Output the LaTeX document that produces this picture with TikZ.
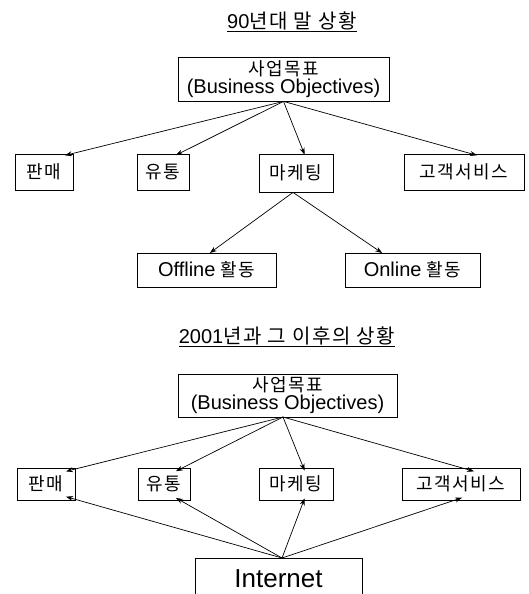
\documentclass[tikz,border=0pt]{standalone}
\usepackage{fontspec}
\setmainfont{Liberation Sans}
\newfontfamily\kr[LetterSpace=8]{Noto Sans CJK KR}
\usetikzlibrary{arrows.meta}
\begin{document}
\begin{tikzpicture}[x=1pt,y=-1pt,
  box/.style={draw,line width=0.8pt,inner sep=0pt,align=center,font=\fontsize{18}{20}\selectfont},
  ttl/.style={inner sep=0pt,font=\fontsize{20}{22}\selectfont},
  arr/.style={line width=0.7pt,-{Stealth[length=7pt,width=5pt]},shorten >=1pt}]
\useasboundingbox (0,0) rectangle (529,594);
% top section
\node[ttl] (t1) at (292,22) {\underline{90{\kr 년대 말 상황}}};
\node[box,minimum width=211pt,minimum height=44pt] (b1) at (283.5,79)
  {{\kr 사업목표}\\[-2pt]{\fontsize{20}{22}\selectfont(Business Objectives)}};
\node[box,minimum width=58pt,minimum height=36pt] (s1) at (44,172) {\kr 판매};
\node[box,minimum width=52pt,minimum height=36pt] (d1) at (163,172) {\kr 유통};
\node[box,minimum width=74pt,minimum height=38pt] (m1) at (296,173) {\kr 마케팅};
\node[box,minimum width=120pt,minimum height=36pt] (c1) at (464,172) {\kr 고객서비스};
\node[box,minimum width=139pt,minimum height=34pt] (off) at (206.5,270) {{\fontsize{20}{22}\selectfont Offline} {\kr 활동}};
\node[box,minimum width=135pt,minimum height=34pt] (on) at (412.5,270) {{\fontsize{20}{22}\selectfont Online} {\kr 활동}};
\draw[arr] (b1.south) -- ([xshift=20pt,yshift=-2pt]s1.north);
\draw[arr] (b1.south) -- ([xshift=12pt,yshift=-2pt]d1.north);
\draw[arr] (b1.south) -- ([xshift=9pt,yshift=-2pt]m1.north);
\draw[arr] (b1.south) -- ([xshift=14pt,yshift=-2pt]c1.north);
\draw[arr] ([xshift=-3pt]m1.south) -- ([xshift=2.5pt,yshift=-1pt]off.north);
\draw[arr] ([xshift=-3pt]m1.south) -- ([xshift=-29.5pt,yshift=-1pt]on.north);
% bottom section
\node[ttl] (t2) at (287,337) {\underline{2001{\kr 년과 그 이후의 상황}}};
\node[box,minimum width=219pt,minimum height=43pt] (b2) at (287.5,395.5)
  {{\kr 사업목표}\\[-2pt]{\fontsize{20}{22}\selectfont(Business Objectives)}};
\node[box,minimum width=58pt,minimum height=32pt] (s2) at (46,484) {\kr 판매};
\node[box,minimum width=52pt,minimum height=32pt] (d2) at (164,484) {\kr 유통};
\node[box,minimum width=74pt,minimum height=32pt] (m2) at (296,484) {\kr 마케팅};
\node[box,minimum width=118pt,minimum height=32pt] (c2) at (461,484) {\kr 고객서비스};
\node[box,minimum width=167pt,minimum height=42pt,font=\fontsize{26}{28}\selectfont] (net) at (278.5,579) {Internet};
\coordinate (o2) at (283,417);
\draw[arr] (o2) -- ([xshift=19pt,yshift=-4pt]s2.north);
\draw[arr] (o2) -- ([xshift=11pt,yshift=-4pt]d2.north);
\draw[arr] (o2) -- ([xshift=9pt,yshift=-4pt]m2.north);
\draw[arr] (o2) -- ([xshift=14pt,yshift=-4pt]c2.north);
\coordinate (o3) at (282,558);
\draw[arr] (o3) -- ([xshift=19pt,yshift=4pt]s2.south);
\draw[arr] (o3) -- ([xshift=11pt,yshift=3pt]d2.south);
\draw[arr] (o3) -- ([xshift=9pt,yshift=3pt]m2.south);
\draw[arr] (o3) -- ([xshift=2pt,yshift=3pt]c2.south);
\end{tikzpicture}
\end{document}
